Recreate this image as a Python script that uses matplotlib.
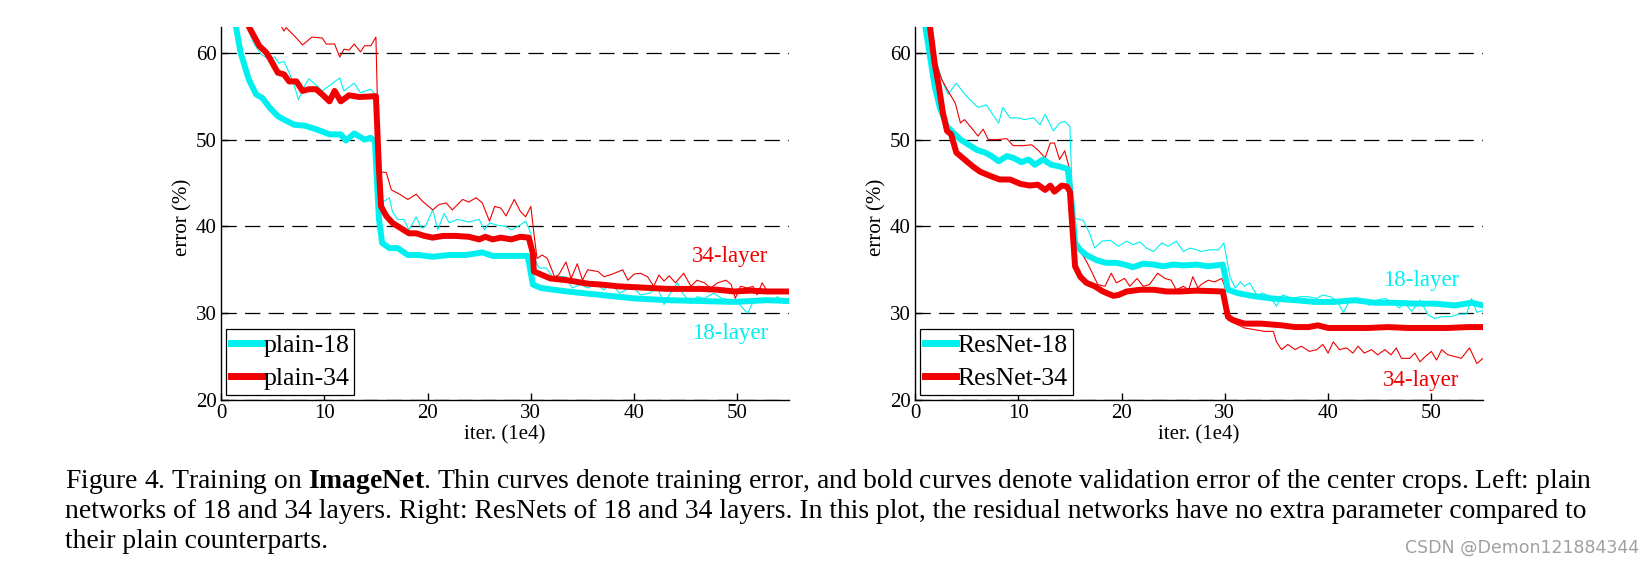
import matplotlib
matplotlib.use("Agg")
import matplotlib.pyplot as plt
from matplotlib.lines import Line2D

plt.rcParams['font.family'] = ['Liberation Serif', 'DejaVu Serif']
plt.rcParams['mathtext.fontset'] = 'custom'
plt.rcParams['mathtext.bf'] = 'Liberation Serif:bold'
plt.rcParams['mathtext.rm'] = 'Liberation Serif'
plt.rcParams['lines.scale_dashes'] = False

CYAN = '#00f0f0'
RED = '#f00000'

# ---- left panel: plain nets (x in 1e4 iters, y = error %) ----
plain18_val_x = [1.45, 1.9, 2.7, 3.4, 4.0, 4.7, 5.5, 6.1, 7.1, 8.1, 9.2, 10.5, 11.6, 12.1, 12.9, 13.9, 14.5, 14.9,
                 15.3, 15.6, 16.3, 17.1, 18.1, 19.2, 20.5, 22.1, 23.7, 25.3, 26.3, 27.6, 29.7, 30.2, 31.0, 33.5,
                 36.8, 40.0, 43.2, 46.5, 49.7, 52.9, 55.0]
plain18_val_y = [63.0, 60.0, 56.9, 55.2, 54.8, 53.7, 52.7, 52.3, 51.7, 51.6, 51.2, 50.6, 50.6, 49.9, 50.7, 50.0, 50.2, 49.8,
                 40.8, 38.1, 37.5, 37.5, 36.7, 36.7, 36.5, 36.7, 36.7, 37.0, 36.6, 36.6, 36.6, 33.3, 32.9, 32.5,
                 32.1, 31.7, 31.5, 31.4, 31.3, 31.5, 31.4]

plain34_val_x = [2.5, 2.7, 3.7, 4.4, 4.8, 5.5, 6.1, 6.6, 7.3, 7.9, 8.5, 9.2, 9.8, 10.5, 11.0, 11.6, 12.4, 13.4, 15.0,
                 15.3, 15.5, 16.0, 16.6, 17.4, 18.2, 18.9, 19.7, 20.5, 21.5, 22.7, 24.0, 25.0, 25.6, 26.3, 27.1,
                 28.1, 29.0, 29.8, 30.2, 30.3, 31.9, 33.5, 34.5, 35.5, 36.8, 38.4, 40.0, 41.6, 43.2, 44.8, 46.5,
                 48.1, 49.7, 51.3, 52.9, 55.0]
plain34_val_y = [64.0, 63.0, 60.8, 60.0, 59.2, 57.7, 57.5, 56.7, 56.7, 55.6, 55.8, 55.8, 55.2, 54.4, 55.6, 54.4, 55.1, 54.9, 55.0,
                 46.5, 42.3, 41.2, 40.4, 39.8, 39.2, 39.2, 38.9, 38.7, 38.9, 38.9, 38.8, 38.5, 38.8, 38.5, 38.7,
                 38.5, 38.8, 38.7, 36.9, 34.8, 34.0, 33.8, 33.6, 33.4, 33.3, 33.1, 33.0, 32.9, 32.8, 32.8, 32.8,
                 32.7, 32.5, 32.6, 32.5, 32.5]

plain18_train_x = [2.4, 2.6, 3.2, 3.9, 4.6, 5.2, 5.6, 6.1, 6.6, 7.1, 7.5, 8.1, 8.5, 9.2, 9.8, 10.6, 11.5, 11.9, 12.9,
                   13.5, 14.0, 14.5, 14.8, 15.2, 15.5, 15.8, 16.3, 16.6, 17.1, 17.7, 18.2, 18.9, 19.4, 19.8, 20.5,
                   21.0, 21.6, 22.1, 22.9, 24.0, 25.0, 25.5, 26.0, 26.9, 27.6, 28.1, 28.9, 29.5, 30.0, 30.3, 30.8,
                   31.5, 32.1, 32.7, 33.4, 34.0, 34.8, 35.5, 36.3, 37.1, 37.7, 38.6, 39.2, 40.0, 40.6, 41.5, 42.3,
                   42.9, 43.4, 44.2, 44.7, 45.5, 46.1, 46.8, 47.7, 48.5, 49.4, 50.2, 51.0, 51.6, 52.4, 53.2, 53.9,
                   54.5, 55.0]
plain18_train_y = [64.0, 62.7, 61.0, 59.8, 59.3, 59.5, 58.8, 59.0, 57.7, 56.2, 54.6, 56.2, 57.0, 56.3, 55.6, 56.3, 57.1, 55.6, 56.5,
                   55.4, 55.6, 55.8, 55.4, 46.5, 42.7, 42.9, 43.3, 41.7, 40.8, 40.8, 39.6, 41.1, 39.8, 40.0, 41.9,
                   39.6, 41.5, 40.4, 40.8, 40.5, 40.8, 39.6, 40.4, 40.1, 40.0, 39.6, 40.1, 40.6, 39.2, 36.5, 35.2,
                   35.2, 34.2, 34.2, 34.2, 32.9, 33.3, 32.9, 33.3, 32.7, 33.5, 32.3, 32.7, 32.9, 32.1, 32.3, 32.9,
                   31.0, 32.1, 33.5, 32.3, 31.1, 31.9, 31.7, 32.3, 31.7, 31.5, 31.0, 30.0, 31.5, 31.7, 31.3, 31.9,
                   31.1, 31.5]

plain34_train_x = [5.6, 5.8, 6.1, 6.3, 7.3, 7.9, 8.8, 9.8, 10.2, 11.0, 11.5, 11.9, 12.4, 12.9, 13.5, 13.9, 14.5, 15.0,
                   15.3, 16.0, 16.5, 17.3, 18.1, 18.9, 19.5, 20.5, 21.1, 21.8, 22.4, 23.4, 24.0, 24.7, 25.3, 26.0,
                   26.5, 27.1, 27.6, 28.4, 29.0, 29.5, 30.0, 30.3, 30.6, 31.1, 31.6, 32.3, 32.7, 33.4, 33.9, 34.5,
                   35.0, 35.5, 36.5, 37.1, 37.9, 38.9, 39.4, 40.0, 40.6, 41.3, 41.9, 42.4, 42.9, 43.4, 44.0, 44.8,
                   45.5, 46.1, 46.8, 47.4, 48.1, 48.9, 49.4, 49.8, 50.3, 51.0, 51.5, 51.9, 52.4, 52.9, 53.6, 54.2,
                   55.0]
plain34_train_y = [63.6, 63.1, 62.5, 62.9, 61.7, 60.9, 61.8, 61.7, 61.0, 61.0, 59.5, 60.4, 60.3, 61.0, 60.1, 60.8, 60.8, 61.8,
                   46.3, 46.2, 44.2, 43.7, 43.1, 43.7, 42.9, 41.9, 42.5, 42.7, 41.9, 43.1, 42.8, 43.3, 42.7, 40.6,
                   42.3, 42.1, 41.2, 43.1, 41.7, 41.1, 42.3, 39.2, 36.3, 36.7, 36.3, 34.2, 34.4, 35.9, 34.0, 35.7,
                   33.8, 35.0, 34.8, 34.2, 34.5, 35.0, 33.8, 34.5, 34.6, 34.2, 33.1, 34.4, 33.7, 34.3, 33.5, 34.6,
                   33.1, 33.8, 33.5, 32.9, 33.5, 33.8, 33.3, 31.7, 33.1, 32.9, 33.1, 32.1, 33.5, 32.5, 32.3, 32.5,
                   32.3]

# ---- right panel: ResNets ----
res18_val_x = [0.8, 1.0, 1.45, 1.9, 2.4, 3.1, 3.7, 4.4, 5.2, 6.0, 6.8, 7.4, 8.1, 8.9, 9.5, 10.3, 11.0, 11.6, 12.4, 13.2,
               14.0, 14.8, 15.2, 15.5, 16.0, 16.6, 17.6, 18.5, 19.5, 20.3, 21.1, 22.1, 23.1, 24.0, 25.0, 26.0, 27.3,
               28.4, 29.8, 30.3, 31.3, 32.6, 34.5, 36.8, 38.7, 40.6, 42.6, 44.5, 46.5, 48.4, 50.3, 52.3, 53.9, 55.0]
res18_val_y = [66.0, 63.0, 59.6, 56.2, 53.7, 51.5, 50.8, 50.0, 49.4, 48.8, 48.5, 48.1, 47.5, 48.1, 47.9, 47.4, 47.7, 47.1, 47.7, 47.1,
               46.9, 46.6, 42.3, 38.1, 37.3, 36.7, 36.1, 35.8, 35.8, 35.6, 35.3, 35.7, 35.6, 35.4, 35.6, 35.5, 35.6,
               35.4, 35.6, 32.7, 32.3, 32.0, 31.7, 31.5, 31.3, 31.3, 31.5, 31.2, 31.2, 31.1, 31.1, 30.9, 31.2, 30.9]

res34_val_x = [1.3, 1.45, 1.9, 2.3, 2.7, 3.1, 3.5, 4.0, 4.8, 5.6, 6.3, 7.3, 8.2, 9.2, 10.2, 11.1, 11.9, 12.6, 13.1, 13.5,
               14.2, 14.7, 15.0, 15.3, 15.5, 16.0, 16.6, 17.4, 18.2, 19.2, 19.7, 20.5, 21.8, 23.1, 24.4, 25.6, 27.3,
               29.8, 30.3, 30.8, 31.9, 33.5, 35.5, 36.8, 38.1, 39.0, 40.0, 41.9, 43.9, 45.8, 47.7, 49.7, 51.6, 53.6,
               55.0]
res34_val_y = [66.0, 63.0, 58.8, 56.2, 53.1, 51.0, 50.6, 48.5, 47.7, 46.9, 46.3, 45.8, 45.4, 45.4, 44.9, 44.7, 44.8, 44.2, 44.7, 44.0,
               44.7, 44.6, 44.0, 38.8, 35.4, 34.2, 33.5, 33.1, 32.5, 32.0, 32.1, 32.5, 32.7, 32.7, 32.5, 32.5, 32.6,
               32.5, 29.6, 29.2, 28.8, 28.8, 28.6, 28.4, 28.4, 28.6, 28.3, 28.3, 28.3, 28.4, 28.3, 28.3, 28.3, 28.4,
               28.4]

res18_train_x = [0.9, 1.1, 1.8, 2.6, 3.2, 4.0, 4.7, 5.3, 6.1, 6.9, 8.1, 8.5, 9.2, 10.0, 10.6, 11.5, 12.1, 12.6, 13.4, 14.0,
                 14.5, 15.0, 15.3, 15.6, 16.3, 16.9, 17.4, 18.1, 18.9, 19.7, 20.5, 21.1, 21.8, 22.4, 23.1, 23.9, 24.5,
                 25.3, 26.0, 26.6, 27.3, 27.7, 28.5, 29.4, 29.9, 30.5, 31.0, 31.5, 31.9, 32.4, 33.1, 33.7, 34.4, 35.0,
                 35.6, 36.5, 37.3, 38.1, 38.9, 39.5, 40.2, 40.8, 41.5, 42.1, 43.1, 44.0, 44.7, 45.5, 46.3, 46.9, 47.4,
                 48.1, 48.9, 49.7, 50.3, 51.1, 51.9, 52.7, 53.4, 53.9, 54.4, 55.0]
res18_train_y = [66.0, 63.0, 60.0, 56.9, 55.2, 56.5, 55.4, 54.6, 53.7, 54.0, 51.9, 53.7, 52.5, 52.5, 52.3, 52.5, 51.7, 52.9, 51.0, 51.9,
                 52.1, 51.5, 41.1, 40.9, 40.7, 39.2, 37.5, 38.3, 38.4, 37.7, 38.3, 37.9, 38.2, 37.5, 37.1, 38.1, 37.7,
                 38.3, 37.1, 37.5, 37.3, 37.1, 37.3, 37.3, 38.1, 34.2, 32.9, 33.6, 33.1, 33.5, 32.1, 32.3, 31.9, 30.8,
                 32.1, 31.7, 31.9, 31.9, 31.7, 32.1, 31.9, 31.5, 30.1, 31.5, 31.7, 30.9, 31.5, 31.7, 31.2, 30.6, 31.2,
                 30.2, 31.5, 29.8, 29.4, 29.6, 29.6, 29.9, 29.9, 31.7, 30.1, 30.3]

res34_train_x = [1.1, 1.3, 1.9, 2.6, 3.2, 3.9, 4.4, 4.8, 5.5, 6.1, 6.6, 7.1, 7.9, 8.9, 9.5, 10.5, 11.3, 11.9, 12.6, 13.1,
                 13.5, 14.0, 14.5, 14.9, 15.2, 15.5, 16.0, 16.5, 17.1, 17.7, 18.4, 19.0, 19.5, 20.3, 20.8, 21.5, 22.1,
                 22.7, 23.5, 24.2, 24.8, 25.3, 26.0, 26.5, 26.9, 27.4, 27.7, 28.4, 29.0, 29.7, 30.0, 30.3, 31.0, 31.9,
                 32.9, 33.9, 34.7, 35.0, 35.5, 36.1, 36.8, 37.4, 38.2, 38.9, 39.5, 40.0, 40.5, 41.1, 41.8, 42.4, 42.9,
                 43.5, 44.2, 44.8, 45.5, 46.1, 46.6, 47.1, 47.9, 48.4, 48.9, 49.4, 50.0, 50.5, 51.0, 51.6, 52.3, 52.9,
                 53.7, 54.4, 55.0]
res34_train_y = [66.0, 63.0, 59.2, 56.9, 55.6, 54.2, 51.9, 52.3, 51.3, 50.4, 51.2, 50.0, 50.0, 50.1, 49.3, 49.3, 49.4, 48.8, 47.9, 49.6,
                 49.6, 47.7, 48.7, 46.9, 44.6, 37.7, 37.1, 36.2, 34.8, 33.3, 33.1, 34.6, 33.5, 34.0, 33.1, 34.0, 33.1,
                 33.3, 34.6, 34.0, 33.8, 32.7, 33.1, 32.7, 34.2, 32.9, 33.3, 33.8, 33.6, 34.0, 33.1, 29.2, 28.8, 28.3,
                 28.1, 27.9, 27.9, 26.7, 25.8, 26.4, 25.8, 26.2, 25.6, 25.8, 26.4, 25.4, 26.7, 25.8, 26.0, 25.4, 26.2,
                 25.4, 25.8, 25.2, 25.8, 25.2, 26.0, 24.8, 24.8, 25.4, 24.4, 25.0, 25.6, 24.6, 25.8, 25.2, 25.0, 24.8,
                 26.0, 24.2, 24.8]

legend_left = ['plain-18', 'plain-34']
legend_right = ['ResNet-18', 'ResNet-34']
# (text, x, y, colour) annotations per panel
notes_left = [('34-layer', 49.3, 36.5, RED), ('18-layer', 49.3, 27.7, CYAN)]
notes_right = [('18-layer', 49.0, 33.8, CYAN), ('34-layer', 49.0, 22.3, RED)]

caption = ["Figure 4. Training on $\\mathbf{ImageNet}$. Thin curves denote training error, and bold curves denote "
           "validation error of the center crops. Left: plain",
           "networks of 18 and 34 layers. Right: ResNets of 18 and 34 layers. In this plot, the residual networks "
           "have no extra parameter compared to",
           "their plain counterparts."]

W, H = 1652, 566
fig = plt.figure(figsize=(W / 100, H / 100), dpi=100)


def panel(rect, curves, labels, notes):
    ax = fig.add_axes(rect)
    for (x, y, c, lw) in curves:
        ax.plot(x, y, color=c, lw=lw, solid_joinstyle='round')
    ax.set_xlim(0, 55)
    ax.set_ylim(20, 63)
    ax.set_xticks([0, 10, 20, 30, 40, 50])
    ax.set_yticks([20, 30, 40, 50, 60])
    ax.yaxis.grid(True, color='k', lw=0.9, linestyle=(0, (11, 6)))
    ax.set_axisbelow(True)
    for s in ['top', 'right']:
        ax.spines[s].set_visible(False)
    for s in ['left', 'bottom']:
        ax.spines[s].set_linewidth(1.0)
    ax.tick_params(direction='in', length=5, width=1, labelsize=15, pad=3)
    ax.set_xlabel('iter. (1e4)', fontsize=15)
    ax.set_ylabel('error (%)', fontsize=15)
    ax.xaxis.set_label_coords(0.5, -0.068)
    ax.yaxis.set_label_coords(-0.05, 0.49)
    handles = [Line2D([], [], color=CYAN, lw=5), Line2D([], [], color=RED, lw=5)]
    leg = ax.legend(handles, labels, loc='lower left', bbox_to_anchor=(0.009, 0.013), borderaxespad=0,
                    fontsize=18.5, fancybox=False, edgecolor='k', framealpha=1, borderpad=0.2,
                    handlelength=1.2, handletextpad=0.05, labelspacing=0.4)
    leg.get_frame().set_linewidth(0.9)
    for t, x, y, c in notes:
        ax.text(x, y, t, color=c, fontsize=16.5, ha='center', va='center')
    return ax


axh = 373.3 / H
panel([221 / W, 1 - 400 / H, 568 / W, axh],
      [(plain18_train_x, plain18_train_y, CYAN, 0.8), (plain34_train_x, plain34_train_y, RED, 0.8),
       (plain18_val_x, plain18_val_y, CYAN, 4.3), (plain34_val_x, plain34_val_y, RED, 4.3)],
      legend_left, notes_left)
panel([915 / W, 1 - 400 / H, 568 / W, axh],
      [(res18_train_x, res18_train_y, CYAN, 0.8), (res34_train_x, res34_train_y, RED, 0.8),
       (res18_val_x, res18_val_y, CYAN, 4.3), (res34_val_x, res34_val_y, RED, 4.3)],
      legend_right, notes_right)

# caption, first line sized to span the same width as the reference
fig.canvas.draw()
r = fig.canvas.get_renderer()
probe = fig.text(0, 0, caption[0], fontsize=17)
wpx = probe.get_window_extent(r).width
probe.remove()
cap_size = 17 * 1530 / wpx
for i, line in enumerate(caption):
    fig.text(65 / W, 1 - (488 + 29.8 * i) / H, line, fontsize=cap_size, va='baseline', ha='left')

fig.text(1639 / W, 1 - 553 / H, 'CSDN @Demon121884344', fontsize=12.5, color='#a0a0a0',
         family='DejaVu Sans', ha='right', va='baseline')

fig.savefig('out.png', dpi=100)
